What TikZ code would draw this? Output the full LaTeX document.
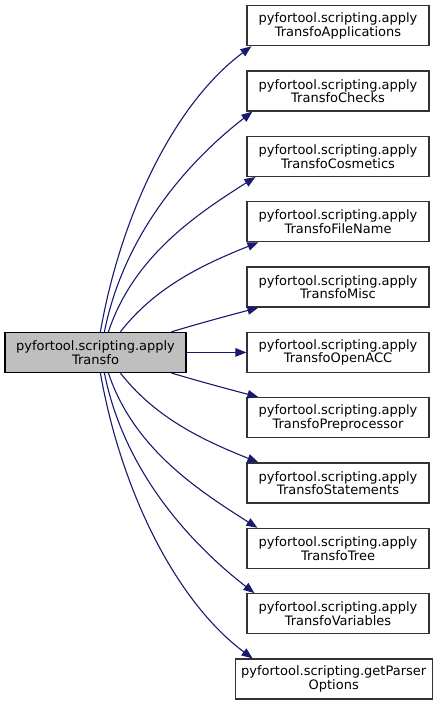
\documentclass[tikz,border=0pt]{standalone}
\usepackage{fontspec}
\setmainfont{DejaVu Sans}
\usetikzlibrary{arrows.meta,calc}
\definecolor{edgeblue}{RGB}{25,25,112}
\definecolor{rootgray}{RGB}{191,191,191}
\tikzset{
  box/.style={draw=black!80, line width=1.2pt, fill=white, minimum height=40pt, inner sep=0pt,
    align=center, font=\fontsize{13}{13.6}\selectfont},
  rootbox/.style={box, draw=black, fill=rootgray},
  edge/.style={draw=edgeblue, line width=1.1pt, -{Triangle[length=11pt,width=8.5pt]}},
}
\begin{document}
\begin{tikzpicture}[x=1pt,y=-1pt]
\useasboundingbox (0,0) rectangle (447,705);
\node[rootbox, minimum width=181pt] (root) at (95.5,352.4) {pyfortool.scripting.apply\\Transfo};
\node[box, minimum width=182pt] (a1) at (338,25.7) {pyfortool.scripting.apply\\TransfoApplications};
\node[box, minimum width=182pt] (a2) at (338,91.0) {pyfortool.scripting.apply\\TransfoChecks};
\node[box, minimum width=182pt] (a3) at (338,156.4) {pyfortool.scripting.apply\\TransfoCosmetics};
\node[box, minimum width=182pt] (a4) at (338,221.7) {pyfortool.scripting.apply\\TransfoFileName};
\node[box, minimum width=182pt] (a5) at (338,287.0) {pyfortool.scripting.apply\\TransfoMisc};
\node[box, minimum width=182pt] (a6) at (338,352.4) {pyfortool.scripting.apply\\TransfoOpenACC};
\node[box, minimum width=182pt] (a7) at (338,417.7) {pyfortool.scripting.apply\\TransfoPreprocessor};
\node[box, minimum width=182pt] (a8) at (338,483.0) {pyfortool.scripting.apply\\TransfoStatements};
\node[box, minimum width=182pt] (a9) at (338,548.4) {pyfortool.scripting.apply\\TransfoTree};
\node[box, minimum width=182pt] (a10) at (338,613.7) {pyfortool.scripting.apply\\TransfoVariables};
\node[box, minimum width=197pt] (a11) at (333.7,679.0) {pyfortool.scripting.getParser\\Options};

\coordinate (s1) at ($(root.north west)+(96,0)$);
\coordinate (s2) at ($(root.north west)+(100,0)$);
\coordinate (s3) at ($(root.north west)+(104,0)$);
\coordinate (s4) at ($(root.north west)+(116,0)$);
\coordinate (s5) at ($(root.north west)+(167,0)$);
\coordinate (b7) at ($(root.south west)+(167,0)$);
\coordinate (b8) at ($(root.south west)+(116,0)$);
\coordinate (b9) at ($(root.south west)+(104,0)$);
\coordinate (b10) at ($(root.south west)+(100,0)$);
\coordinate (b11) at ($(root.south west)+(96,0)$);

\draw[edge] (s1) .. controls +(20,-115) and +(-78,58) .. ($(a1.south west)+(5,0)$);
\draw[edge] (s2) .. controls +(20,-100) and +(-62,48) .. ($(a2.south west)+(6,0)$);
\draw[edge] (s3) .. controls +(25,-75) and +(-60,38) .. ($(a3.south west)+(9,0)$);
\draw[edge] (s4) .. controls +(35,-45) and +(-55,22) .. ($(a4.south west)+(12,0)$);
\draw[edge] (s5) .. controls +(30,-9) and +(-30,8) .. ($(a5.south west)+(12,0)$);
\draw[edge] (root.east) -- (a6.west);
\draw[edge] (b7) .. controls +(30,9) and +(-30,-8) .. ($(a7.north west)+(12,0)$);
\draw[edge] (b8) .. controls +(35,45) and +(-55,-22) .. ($(a8.north west)+(12,0)$);
\draw[edge] (b9) .. controls +(25,75) and +(-60,-38) .. ($(a9.north west)+(11,0)$);
\draw[edge] (b10) .. controls +(20,100) and +(-62,-48) .. ($(a10.north west)+(8,0)$);
\draw[edge] (b11) .. controls +(20,115) and +(-78,-58) .. ($(a11.north west)+(18,0)$);
\end{tikzpicture}
\end{document}
